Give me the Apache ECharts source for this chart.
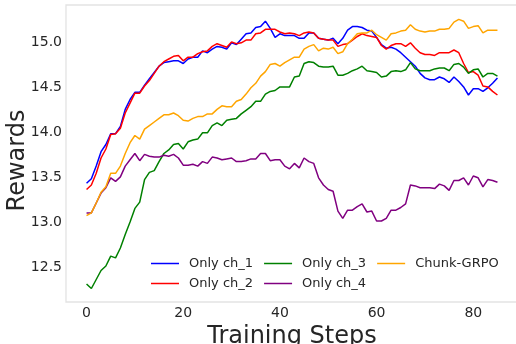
<!DOCTYPE html>
<html>
<head>
<meta charset="utf-8">
<script src="https://cdn.jsdelivr.net/npm/echarts@6/dist/echarts.min.js"></script>
<style>
	html, body { margin: 0; padding: 0; background: #fff; }
	#chart { width: 516px; height: 344px; }
</style>
</head>
<body>
<div id="chart"></div>
<script>
	// rewards per training step (step = index)
	var onlyCh1 = [13.44,13.49,13.63,13.79,13.87,13.99,13.99,14.07,14.26,14.37,14.45,14.45,14.53,14.60,14.67,14.74,14.78,14.79,14.80,14.80,14.77,
		14.82,14.84,14.84,14.91,14.89,14.93,14.96,14.95,14.93,15.00,14.98,15.04,15.10,15.11,15.17,15.18,15.24,15.16,15.06,15.10,15.08,
		15.08,15.08,15.05,15.05,15.11,15.11,15.05,15.04,15.03,15.05,14.99,15.05,15.14,15.18,15.18,15.17,15.14,15.13,15.06,14.98,14.94,
		14.95,14.93,14.89,14.84,14.79,14.74,14.66,14.61,14.59,14.59,14.62,14.60,14.56,14.62,14.57,14.51,14.42,14.49,14.49,14.46,14.50,14.55,14.61];
	var onlyCh2 = [13.37,13.42,13.55,13.72,13.82,13.98,13.99,14.05,14.22,14.33,14.44,14.44,14.52,14.58,14.66,14.74,14.79,14.82,14.85,14.86,14.80,
		14.84,14.84,14.88,14.90,14.91,14.96,14.99,14.97,14.95,15.01,14.99,15.00,15.03,15.03,15.10,15.11,15.15,15.15,15.15,15.12,15.10,
		15.11,15.10,15.08,15.11,15.12,15.11,15.05,15.04,15.03,15.03,14.96,14.98,14.99,15.03,15.07,15.10,15.08,15.07,15.06,14.97,14.93,
		14.97,14.99,14.99,14.96,15.00,14.94,14.89,14.87,14.87,14.86,14.89,14.89,14.89,14.92,14.89,14.77,14.67,14.68,14.64,14.52,14.51,14.46,14.42];
	var onlyCh3 = [12.32,12.27,12.37,12.47,12.52,12.63,12.61,12.72,12.87,13.01,13.16,13.23,13.48,13.56,13.58,13.68,13.77,13.81,13.87,13.88,13.82,
		13.90,13.92,13.93,14.00,14.00,14.08,14.11,14.08,14.14,14.15,14.16,14.21,14.25,14.29,14.35,14.35,14.43,14.46,14.47,14.51,14.51,
		14.51,14.62,14.63,14.77,14.79,14.78,14.74,14.73,14.73,14.74,14.64,14.64,14.66,14.69,14.71,14.74,14.69,14.68,14.67,14.62,14.63,
		14.68,14.69,14.68,14.70,14.78,14.71,14.69,14.69,14.69,14.71,14.72,14.72,14.69,14.76,14.77,14.73,14.66,14.70,14.71,14.62,14.66,14.66,14.63];
	var onlyCh4 = [13.11,13.11,13.22,13.33,13.39,13.50,13.46,13.51,13.63,13.70,13.77,13.69,13.76,13.74,13.73,13.73,13.75,13.74,13.76,13.72,13.64,
		13.64,13.65,13.63,13.68,13.66,13.73,13.72,13.70,13.71,13.72,13.68,13.68,13.69,13.71,13.71,13.77,13.77,13.69,13.70,13.70,13.63,
		13.60,13.66,13.61,13.72,13.68,13.66,13.50,13.42,13.37,13.35,13.13,13.05,13.14,13.14,13.18,13.21,13.12,13.13,13.02,13.02,13.05,
		13.14,13.14,13.17,13.21,13.42,13.41,13.39,13.39,13.39,13.38,13.43,13.41,13.36,13.47,13.47,13.50,13.42,13.52,13.50,13.40,13.48,13.47,13.45];
	var chunkGrpo = [13.08,13.11,13.22,13.34,13.40,13.55,13.55,13.63,13.77,13.89,13.97,13.93,14.04,14.08,14.12,14.16,14.20,14.20,14.22,14.19,14.14,
		14.13,14.16,14.18,14.18,14.21,14.21,14.26,14.30,14.29,14.29,14.35,14.37,14.43,14.50,14.55,14.63,14.68,14.76,14.77,14.74,14.78,
		14.81,14.84,14.84,14.93,14.96,14.98,14.91,14.94,14.93,14.95,14.88,14.90,14.99,15.04,15.10,15.11,15.11,15.14,15.09,15.06,15.03,
		15.10,15.11,15.13,15.14,15.20,15.15,15.13,15.12,15.13,15.13,15.15,15.15,15.16,15.23,15.26,15.24,15.16,15.18,15.19,15.11,15.14,15.14,15.14];

	var xTicks = [0, 20, 40, 60, 80];
	var yTicks = [12.5, 13.0, 13.5, 14.0, 14.5, 15.0];

	var names = ['Only ch_1', 'Only ch_2', 'Only ch_3', 'Only ch_4', 'Chunk-GRPO'];
	var values = [onlyCh1, onlyCh2, onlyCh3, onlyCh4, chunkGrpo];
	var colors = ['#0000ff', '#ff0000', '#008000', '#800080', '#ffa500'];

	var font = 'DejaVu Sans';

	function toPairs(arr) {
		return arr.map(function(v, i) { return [i, v]; });
	}

	var series = names.map(function(n, k) {
		return {
			name: n,
			type: 'line',
			symbol: 'none',
			data: toPairs(values[k]),
			lineStyle: { color: colors[k], width: 1.5 },
			itemStyle: { color: colors[k] },
			animation: false
		};
	});

	// two legends so the rows line up like the matplotlib one
	var legendBase = {
		orient: 'horizontal',
		icon: 'rect',
		itemWidth: 28,
		itemHeight: 1.5,
		itemGap: 11,
		textStyle: { color: '#262626', fontSize: 13, fontFamily: font, padding: [0, 0, 0, 5] }
	};

	var option = {
		backgroundColor: '#fff',
		color: colors,
		grid: {
			left: 66,
			right: -2,
			top: 5,
			bottom: 42,
			outerBoundsMode: 'none',
			containLabel: false,
			show: true,
			borderColor: '#e3e3e3',
			borderWidth: 1.3,
			backgroundColor: '#fff'
		},
		legend: [
			Object.assign({}, legendBase, { left: 146, top: 252, data: ['Only ch_1', 'Only ch_3', 'Chunk-GRPO'] }),
			Object.assign({}, legendBase, { left: 146, top: 272, data: ['Only ch_2', 'Only ch_4'] })
		],
		xAxis: {
			type: 'value',
			min: -4.25,
			max: 89.25,
			name: 'Training Steps',
			nameLocation: 'middle',
			nameGap: 23,
			nameMoveOverlap: false,
			nameTextStyle: { color: '#262626', fontSize: 24, fontFamily: font },
			axisLine: { show: false },
			axisTick: { show: false },
			splitLine: { show: false },
			axisLabel: {
				customValues: xTicks,
				color: '#262626',
				fontSize: 14,
				fontFamily: font,
				margin: 4
			}
		},
		yAxis: {
			type: 'value',
			min: 12.12,
			max: 15.42,
			name: 'Rewards',
			nameLocation: 'middle',
			nameRotate: 90,
			nameGap: 36,
			nameMoveOverlap: false,
			nameTextStyle: { color: '#262626', fontSize: 24, fontFamily: font, padding: [0, 14, 0, 0] },
			axisLine: { show: false },
			axisTick: { show: false },
			splitLine: { show: false },
			axisLabel: {
				customValues: yTicks,
				formatter: function(v) { return v.toFixed(1); },
				color: '#262626',
				fontSize: 14,
				fontFamily: font,
				margin: 4
			}
		},
		series: series
	};

	var myChart = echarts.init(document.getElementById('chart'));
	myChart.setOption(option);
</script>
</body>
</html>
